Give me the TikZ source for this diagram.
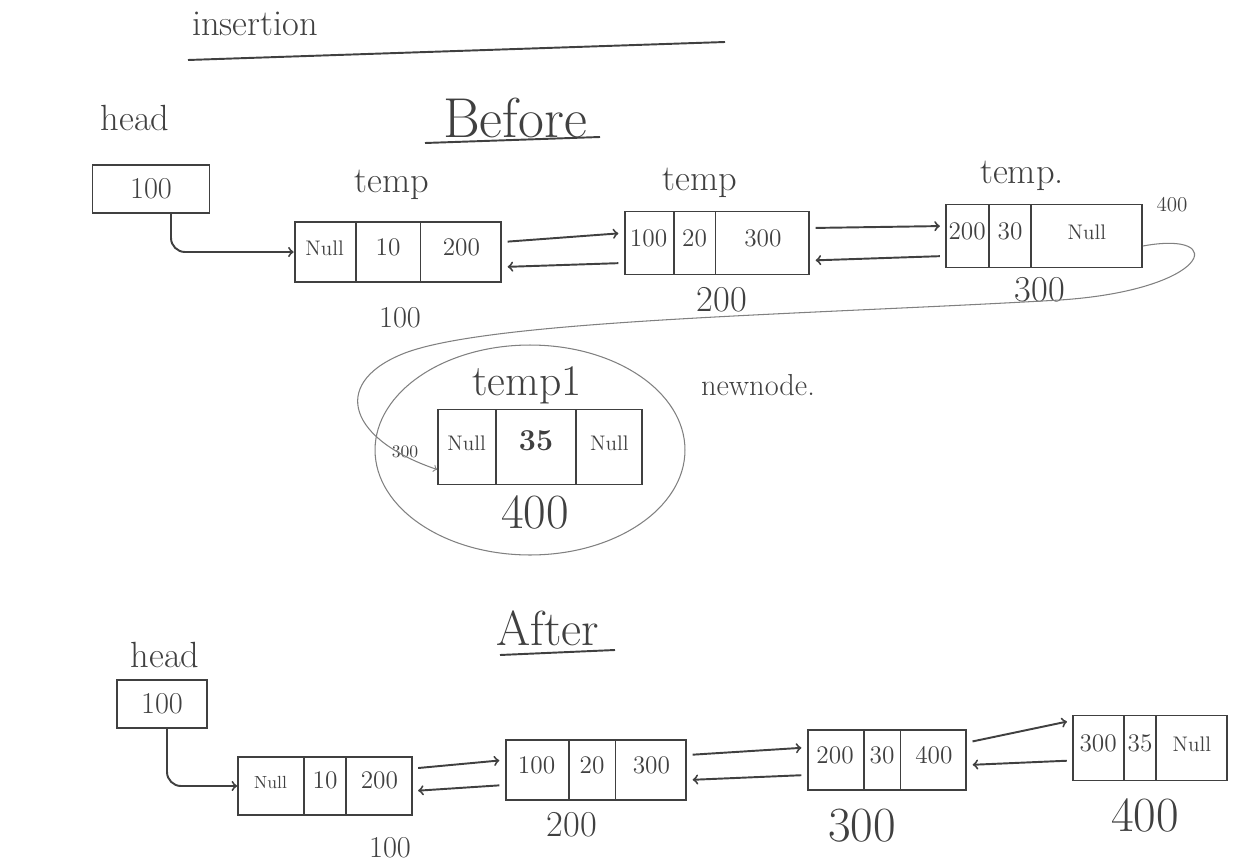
\documentclass[tikz,border=0pt]{standalone}
\usetikzlibrary{arrows,shapes.multipart}
\newcommand{\cellw}[3][1.2cm]{\makebox[#2]{\rule[-0.45\dimexpr#1\relax]{0pt}{#1}#3}}

\begin{document}
\begin{tikzpicture}[x=0.02cm, y=-0.02cm, line width=1.1pt, color=black!75,
	dlnode/.style={draw, rectangle split, rectangle split horizontal, rectangle split parts=3, inner sep=0pt, font=\Large},
	headbox/.style={draw, inner sep=0pt, minimum height=0.96cm, font=\LARGE},
	hand/.style={font=\huge},
	lnk/.style={->, shorten <=3pt, shorten >=3pt},
	pencil/.style={line width=0.6pt, black!50}]
\useasboundingbox (0,0) rectangle (1253,865);
	\node[hand] (title) at (255,24) {insertion};
	\draw (188,60) -- (725,42);
	\node[font=\fontsize{32}{38}\selectfont] (before) at (515,118) {Before};
	\draw (425,143) -- (600,137);
	\node[hand] (headA) at (135,118) {head};
	\node[headbox, minimum width=2.34cm] (hA) at (151,189) {100};
	\node[dlnode] (b1) at (398,252) {\cellw{1.2cm}{\large Null}\nodepart{two}\cellw{1.26cm}{10}\nodepart{three}\cellw{1.6cm}{200}};
	\node[dlnode] (b2) at (717,243) {\cellw[1.26cm]{0.96cm}{100}\nodepart{two}\cellw[1.26cm]{0.8cm}{20}\nodepart{three}\cellw[1.26cm]{1.86cm}{300}};
	\node[dlnode] (b3) at (1044,236) {\cellw[1.26cm]{0.84cm}{200}\nodepart{two}\cellw[1.26cm]{0.8cm}{30}\nodepart{three}\cellw[1.26cm]{2.2cm}{\large Null}};
	\node[hand] (tb1) at (392,185) {temp};
	\node[hand] (tb2) at (700,183) {temp};
	\node[hand] (tb3) at (1022,176) {temp.};
	\node[font=\LARGE] (ab1) at (400,318) {100};
	\node[hand] (ab2) at (722,300) {200};
	\node[hand] (ab3) at (1040,290) {300};
	\node[font=\large] (nx3) at (1172,205) {400};
	\draw[->, rounded corners=8pt] ([xshift=0.4cm]hA.south) |- (b1.west);
	\draw[lnk] ([yshift=0.2cm]b1.east) -- ([yshift=0.2cm]b2.west);
	\draw[lnk] ([yshift=-0.4cm]b2.west) -- ([yshift=-0.3cm]b1.east);
	\draw[lnk] ([yshift=0.3cm]b2.east) -- ([yshift=0.2cm]b3.west);
	\draw[lnk] ([yshift=-0.4cm]b3.west) -- ([yshift=-0.35cm]b2.east);
	\node[dlnode] (t1) at (540,447) {\cellw[1.5cm]{1.14cm}{\large Null}\nodepart{two}\cellw[1.5cm]{1.56cm}{\LARGE\bfseries 35}\nodepart{three}\cellw[1.5cm]{1.3cm}{\large Null}};
	\node[font=\Huge] (tt1) at (527,385) {temp1};
	\node[font=\fontsize{28}{34}\selectfont] (at1) at (535,512) {400};
	\node[font=\LARGE] (newnode) at (758,385) {newnode.};
	\node[font=\normalsize] (px1) at (405,452) {300};
	\draw[pencil] (530,450) ellipse [x radius=3.1cm, y radius=2.1cm];
	\draw[pencil, ->] ([yshift=-0.2cm]b3.east) .. controls (1230,230) and (1210,290) .. (1060,300) .. controls (800,315) and (480,320) .. (400,355) .. controls (330,385) and (350,440) .. ([yshift=-0.45cm]t1.west);
	\node[font=\fontsize{28}{34}\selectfont] (after) at (548,628) {After};
	\draw (500,655) -- (615,650);
	\node[hand] (headB) at (165,655) {head};
	\node[headbox, minimum width=1.8cm] (hB) at (162,704) {100};
	\node[dlnode] (a1) at (325,786) {\cellw[1.16cm]{1.3cm}{\normalsize Null}\nodepart{two}\cellw[1.16cm]{0.8cm}{10}\nodepart{three}\cellw[1.16cm]{1.3cm}{200}};
	\node[dlnode] (a2) at (596,770) {\cellw{1.24cm}{100}\nodepart{two}\cellw{0.9cm}{20}\nodepart{three}\cellw{1.4cm}{300}};
	\node[dlnode] (a3) at (887,760) {\cellw{1.1cm}{200}\nodepart{two}\cellw{0.7cm}{30}\nodepart{three}\cellw{1.3cm}{400}};
	\node[dlnode] (a4) at (1150,748) {\cellw[1.3cm]{1.0cm}{300}\nodepart{two}\cellw[1.3cm]{0.6cm}{35}\nodepart{three}\cellw[1.3cm]{1.4cm}{\large Null}};
	\node[font=\LARGE] (ba1) at (390,848) {100};
	\node[hand] (ba2) at (572,825) {200};
	\node[font=\fontsize{28}{34}\selectfont] (ba3) at (862,826) {300};
	\node[font=\fontsize{28}{34}\selectfont] (ba4) at (1145,815) {400};
	\draw[->, rounded corners=8pt] ([xshift=0.1cm]hB.south) |- (a1.west);
	\draw[lnk] ([yshift=0.35cm]a1.east) -- ([yshift=0.2cm]a2.west);
	\draw[lnk] ([yshift=-0.3cm]a2.west) -- ([yshift=-0.1cm]a1.east);
	\draw[lnk] ([yshift=0.3cm]a2.east) -- ([yshift=0.25cm]a3.west);
	\draw[lnk] ([yshift=-0.3cm]a3.west) -- ([yshift=-0.2cm]a2.east);
	\draw[lnk] ([yshift=0.35cm]a3.east) -- ([yshift=0.55cm]a4.west);
	\draw[lnk] ([yshift=-0.25cm]a4.west) -- ([yshift=-0.1cm]a3.east);
\end{tikzpicture}
\end{document}
